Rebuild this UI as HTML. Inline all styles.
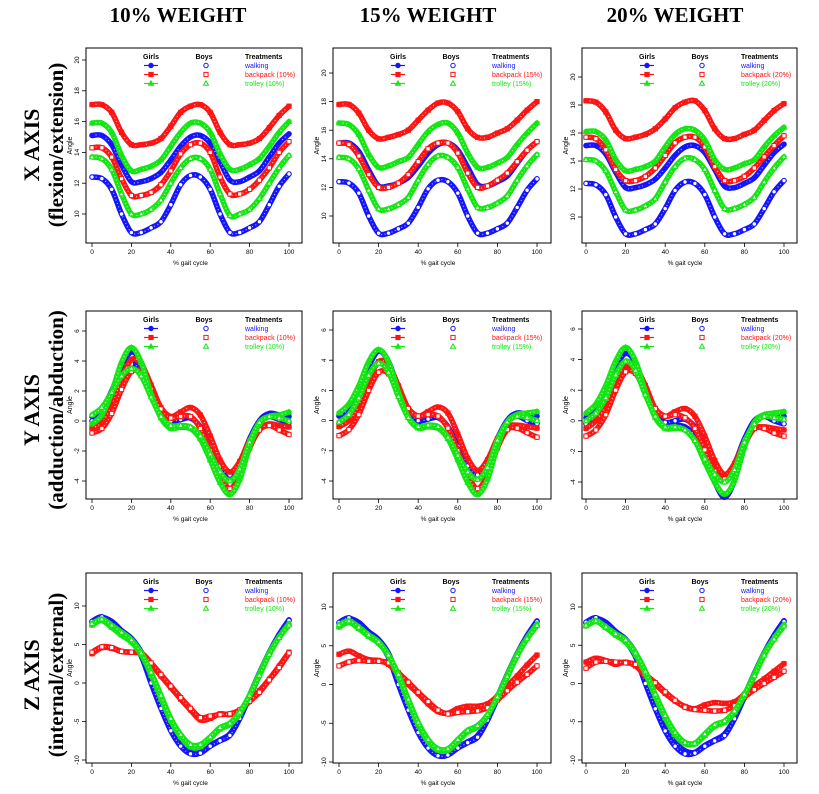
<!DOCTYPE html>
<html><head><meta charset="utf-8"><style>
body{margin:0;background:#fff;width:819px;height:794px;overflow:hidden}
svg{display:block;font-family:"Liberation Sans",sans-serif}
</style></head><body>
<svg id="fig" width="819" height="794" viewBox="0 0 819 794"></svg>
<script>
const gaitPct=[0,5,10,15,20,25,30,35,40,45,50,55,60,65,70,75,80,85,90,95,100];
const colTitles=["10% WEIGHT","15% WEIGHT","20% WEIGHT"];
const weightLabels=["10%","15%","20%"];
const rowTitles=[["X AXIS","(flexion/extension)"],["Y AXIS","(adduction/abduction)"],["Z AXIS","(internal/external)"]];
const ticksX=[0,20,40,60,80,100];
const ticksRow1=[10,12,14,16,18,20];
const ticksRow2=[-4,-2,0,2,4,6];
const ticksRow3=[-10,-5,0,5,10];
// Row 1 - X axis
const x10_walkGirls=[15.1,15.1,14.5,13.2,12.1,12.1,12.3,12.7,13.5,14.4,15.0,15.1,14.6,13.4,12.2,12.1,12.4,12.8,13.7,14.6,15.2];
const x10_walkBoys=[12.4,12.3,11.6,10.0,8.8,8.8,9.1,9.5,10.6,11.9,12.5,12.4,11.6,10.0,8.8,8.8,9.1,9.5,10.6,11.8,12.6];
const x10_packGirls=[17.1,17.1,16.6,15.3,14.5,14.5,14.6,14.9,15.7,16.6,17.0,17.1,16.6,15.3,14.5,14.5,14.6,14.9,15.6,16.4,17.0];
const x10_packBoys=[14.3,14.3,13.7,12.3,11.2,11.2,11.4,11.9,12.8,13.9,14.5,14.6,14.0,12.4,11.3,11.3,11.6,12.2,13.0,14.0,14.7];
const x10_trolGirls=[15.9,15.9,15.3,13.8,12.8,12.9,13.1,13.5,14.4,15.3,15.9,15.9,15.3,13.9,12.9,12.9,13.2,13.6,14.4,15.3,16.0];
const x10_trolBoys=[13.7,13.6,12.9,11.3,10.0,10.0,10.3,10.9,12.0,13.0,13.6,13.6,12.9,11.3,9.9,10.0,10.3,11.0,12.0,13.0,13.8];
const x15_walkGirls=[15.1,15.1,14.5,13.2,12.1,12.1,12.3,12.7,13.5,14.4,15.0,15.1,14.6,13.4,12.2,12.1,12.4,12.8,13.7,14.6,15.2];
const x15_walkBoys=[12.4,12.3,11.6,10.0,8.8,8.8,9.1,9.5,10.6,11.9,12.5,12.4,11.6,10.0,8.8,8.8,9.1,9.5,10.6,11.8,12.6];
const x15_packGirls=[17.8,17.8,17.2,16.0,15.4,15.5,15.7,16.0,16.7,17.4,17.9,17.9,17.3,16.1,15.5,15.5,15.8,16.1,16.7,17.4,18.0];
const x15_packBoys=[15.1,15.0,14.2,12.9,12.0,12.0,12.3,12.9,13.8,14.7,15.1,15.1,14.4,13.0,12.0,12.1,12.5,13.0,13.8,14.6,15.2];
const x15_trolGirls=[16.5,16.4,15.7,14.3,13.4,13.5,13.8,14.1,15.0,15.9,16.4,16.5,15.8,14.4,13.4,13.4,13.7,14.1,15.0,15.8,16.5];
const x15_trolBoys=[14.1,14.0,13.3,11.8,10.5,10.5,10.8,11.3,12.5,13.6,14.2,14.1,13.4,11.9,10.6,10.6,10.9,11.4,12.5,13.5,14.3];
const x20_walkGirls=[15.1,15.1,14.5,13.2,12.1,12.1,12.3,12.7,13.5,14.4,15.0,15.1,14.6,13.4,12.2,12.1,12.4,12.8,13.7,14.6,15.2];
const x20_walkBoys=[12.4,12.3,11.6,10.0,8.8,8.8,9.1,9.5,10.6,11.9,12.5,12.4,11.6,10.0,8.8,8.8,9.1,9.5,10.6,11.8,12.6];
const x20_packGirls=[18.3,18.2,17.5,16.2,15.6,15.7,15.9,16.3,17.0,17.8,18.2,18.3,17.6,16.3,15.6,15.6,15.9,16.2,16.9,17.6,18.1];
const x20_packBoys=[15.7,15.6,14.8,13.4,12.6,12.6,12.9,13.5,14.4,15.3,15.7,15.7,15.0,13.6,12.6,12.6,12.9,13.5,14.3,15.1,15.8];
const x20_trolGirls=[16.1,16.1,15.5,14.1,13.3,13.4,13.6,14.0,15.0,15.9,16.3,16.2,15.5,14.1,13.4,13.5,13.8,14.1,15.0,15.8,16.4];
const x20_trolBoys=[14.1,14.0,13.3,11.8,10.5,10.5,10.8,11.3,12.5,13.6,14.2,14.1,13.4,11.9,10.6,10.6,10.9,11.4,12.5,13.5,14.3];
// Row 2 - Y axis
const y10_walkGirls=[0.3,0.8,2.0,3.6,4.6,3.9,2.1,0.6,-0.3,-0.4,-0.5,-1.1,-2.4,-3.8,-4.7,-3.7,-1.6,0.0,0.5,0.4,0.3];
const y10_walkBoys=[0.0,0.5,1.6,3.0,3.8,3.3,1.9,0.6,0.0,0.1,0.2,-0.4,-1.7,-3.0,-3.6,-2.8,-1.2,0.0,0.3,0.1,-0.1];
const y10_packGirls=[-0.5,-0.1,1.0,2.8,4.1,3.8,2.4,0.9,0.3,0.6,0.9,0.4,-1.0,-2.6,-3.4,-2.7,-1.3,-0.5,-0.2,-0.3,-0.4];
const y10_packBoys=[-0.8,-0.5,0.5,2.1,3.3,3.2,2.1,0.8,0.2,0.3,0.3,-0.5,-2.0,-3.6,-4.5,-3.6,-1.8,-0.6,-0.3,-0.6,-0.9];
const y10_trolGirls=[-0.2,0.4,1.9,3.9,4.9,3.9,1.8,0.2,-0.5,-0.4,-0.5,-1.2,-2.6,-4.1,-4.9,-3.9,-1.7,-0.2,0.3,0.4,0.6];
const y10_trolBoys=[0.4,0.9,1.9,3.0,3.5,3.0,1.6,0.3,-0.3,-0.3,-0.4,-1.0,-2.2,-3.4,-4.0,-3.2,-1.4,-0.1,0.3,0.2,0.0];
const y15_walkGirls=[0.3,0.8,2.0,3.6,4.6,3.9,2.1,0.6,-0.3,-0.4,-0.5,-1.1,-2.4,-3.8,-4.7,-3.7,-1.6,0.0,0.5,0.4,0.3];
const y15_walkBoys=[-0.2,0.3,1.5,2.9,3.8,3.3,1.9,0.6,0.0,0.1,0.2,-0.4,-1.7,-3.0,-3.6,-2.8,-1.2,0.0,0.3,0.0,-0.2];
const y15_packGirls=[-0.4,0.0,1.0,2.7,3.9,3.7,2.3,0.8,0.3,0.6,0.9,0.5,-0.9,-2.5,-3.3,-2.6,-1.2,-0.4,-0.3,-0.4,-0.5];
const y15_packBoys=[-1.0,-0.6,0.4,2.0,3.2,3.1,2.0,0.8,0.3,0.4,0.3,-0.5,-2.0,-3.6,-4.5,-3.6,-1.8,-0.6,-0.5,-0.8,-1.1];
const y15_trolGirls=[0.5,1.1,2.3,3.9,4.7,3.9,1.9,0.2,-0.5,-0.4,-0.5,-1.2,-2.6,-4.1,-4.9,-3.9,-1.7,-0.1,0.4,0.5,0.6];
const y15_trolBoys=[-0.1,0.4,1.5,3.0,3.8,3.2,1.6,0.2,-0.4,-0.3,-0.4,-1.1,-2.3,-3.4,-3.9,-3.1,-1.3,-0.1,0.3,0.2,0.0];
const y20_walkGirls=[0.2,0.7,1.9,3.5,4.4,3.8,2.0,0.5,-0.3,-0.3,-0.4,-1.0,-2.5,-4.0,-5.0,-3.9,-1.7,-0.1,0.4,0.4,0.3];
const y20_walkBoys=[-0.2,0.3,1.4,2.8,3.6,3.2,1.8,0.5,-0.1,0.0,0.1,-0.4,-1.6,-2.9,-3.6,-2.8,-1.2,0.0,0.3,0.0,-0.2];
const y20_packGirls=[-0.5,0.0,1.0,2.6,3.6,3.5,2.3,0.8,0.3,0.6,0.8,0.3,-1.0,-2.6,-3.5,-2.8,-1.4,-0.5,-0.4,-0.5,-0.6];
const y20_packBoys=[-1.0,-0.6,0.4,2.0,3.2,3.1,2.0,0.8,0.3,0.4,0.2,-0.5,-1.9,-3.3,-3.8,-3.1,-1.6,-0.5,-0.5,-0.8,-1.0];
const y20_trolGirls=[0.5,1.1,2.3,3.9,4.8,3.9,1.9,0.2,-0.5,-0.5,-0.6,-1.3,-2.7,-4.0,-4.8,-3.9,-1.7,-0.1,0.4,0.5,0.6];
const y20_trolBoys=[0.0,0.5,1.5,3.0,3.9,3.3,1.7,0.3,-0.4,-0.4,-0.6,-1.3,-2.5,-3.5,-4.0,-3.2,-1.4,-0.2,0.3,0.2,0.1];
// Row 3 - Z axis
const z10_walkGirls=[7.9,8.5,8.0,6.8,5.8,4.0,0.8,-2.5,-5.4,-7.6,-8.8,-9.0,-8.1,-7.4,-6.6,-4.6,-1.6,1.3,4.0,6.3,8.2];
const z10_walkBoys=[8.0,8.6,7.6,6.5,5.5,3.5,0.0,-3.3,-6.2,-8.2,-9.2,-9.1,-8.2,-7.5,-6.8,-4.6,-1.8,1.0,3.8,6.2,8.1];
const z10_packGirls=[3.8,4.6,4.5,4.1,4.0,3.8,2.4,0.9,-0.6,-2.1,-3.5,-4.8,-4.6,-4.0,-4.1,-3.6,-2.3,-1.0,0.5,2.2,4.0];
const z10_packBoys=[4.0,4.7,4.6,4.1,4.0,3.9,2.6,1.1,-0.4,-1.9,-3.3,-4.5,-4.3,-4.1,-4.0,-3.5,-2.4,-1.2,0.4,2.0,3.9];
const z10_trolGirls=[7.5,8.1,7.2,6.2,5.3,3.7,1.1,-2.0,-4.9,-7.0,-8.3,-8.3,-7.2,-6.0,-5.4,-4.0,-1.6,1.2,3.9,6.0,7.7];
const z10_trolBoys=[7.7,8.3,7.5,6.6,5.6,3.9,1.4,-1.6,-4.6,-6.7,-8.0,-8.0,-7.0,-5.8,-5.2,-3.8,-1.6,1.0,3.7,5.9,7.5];
const z15_walkGirls=[7.9,8.5,8.0,6.8,5.8,4.0,0.8,-2.5,-5.4,-7.6,-8.8,-9.0,-8.1,-7.4,-6.6,-4.6,-1.6,1.3,4.0,6.3,8.2];
const z15_walkBoys=[8.0,8.6,7.6,6.5,5.5,3.5,0.0,-3.3,-6.2,-8.2,-9.2,-9.1,-8.2,-7.5,-6.8,-4.6,-1.8,1.0,3.8,6.2,8.1];
const z15_packGirls=[3.9,4.3,3.7,3.2,3.1,2.6,1.3,0.0,-1.2,-2.5,-3.5,-3.7,-3.1,-2.8,-2.8,-2.5,-1.5,-0.2,1.1,2.5,3.8];
const z15_packBoys=[2.4,2.9,3.1,3.0,3.0,2.8,1.5,0.3,-1.0,-2.2,-3.3,-3.8,-3.6,-3.5,-3.4,-3.0,-2.0,-0.8,0.3,1.3,2.4];
const z15_trolGirls=[7.4,8.0,7.2,6.2,5.3,3.7,1.0,-2.2,-5.2,-7.4,-8.5,-8.5,-7.4,-6.1,-5.5,-4.0,-1.6,1.2,3.9,6.0,7.8];
const z15_trolBoys=[7.7,8.2,7.4,6.4,5.5,3.8,1.3,-1.9,-4.9,-7.1,-8.3,-8.3,-7.1,-5.9,-5.3,-3.9,-1.6,1.0,3.7,5.9,7.6];
const z20_walkGirls=[7.9,8.5,8.0,6.8,5.8,4.0,0.8,-2.5,-5.4,-7.6,-8.8,-9.0,-8.1,-7.4,-6.6,-4.6,-1.6,1.3,4.0,6.3,8.2];
const z20_walkBoys=[8.0,8.6,7.6,6.5,5.5,3.5,0.0,-3.3,-6.2,-8.2,-9.2,-9.1,-8.2,-7.5,-6.8,-4.6,-1.8,1.0,3.8,6.2,8.1];
const z20_packGirls=[2.8,3.3,3.0,2.5,2.8,2.3,1.0,-0.1,-1.3,-2.3,-3.0,-3.3,-2.8,-2.5,-2.6,-2.4,-1.4,-0.3,0.6,1.6,2.6];
const z20_packBoys=[2.0,2.8,2.9,2.8,2.7,2.5,1.2,0.1,-1.1,-2.2,-3.1,-3.4,-3.5,-3.6,-3.5,-2.9,-1.8,-0.8,0.0,0.8,1.6];
const z20_trolGirls=[7.5,8.1,7.3,6.3,5.4,3.8,1.3,-1.7,-4.5,-6.7,-7.9,-7.9,-6.8,-5.6,-5.1,-3.8,-1.5,1.2,3.9,5.9,7.7];
const z20_trolBoys=[7.6,8.2,7.4,6.5,5.7,4.0,1.6,-1.4,-4.2,-6.4,-7.7,-7.8,-6.6,-5.4,-4.9,-3.6,-1.4,1.0,3.7,5.8,7.5];

const panelSeries=[
 [[x10_walkGirls,x10_walkBoys,x10_packGirls,x10_packBoys,x10_trolGirls,x10_trolBoys],
  [x15_walkGirls,x15_walkBoys,x15_packGirls,x15_packBoys,x15_trolGirls,x15_trolBoys],
  [x20_walkGirls,x20_walkBoys,x20_packGirls,x20_packBoys,x20_trolGirls,x20_trolBoys]],
 [[y10_walkGirls,y10_walkBoys,y10_packGirls,y10_packBoys,y10_trolGirls,y10_trolBoys],
  [y15_walkGirls,y15_walkBoys,y15_packGirls,y15_packBoys,y15_trolGirls,y15_trolBoys],
  [y20_walkGirls,y20_walkBoys,y20_packGirls,y20_packBoys,y20_trolGirls,y20_trolBoys]],
 [[z10_walkGirls,z10_walkBoys,z10_packGirls,z10_packBoys,z10_trolGirls,z10_trolBoys],
  [z15_walkGirls,z15_walkBoys,z15_packGirls,z15_packBoys,z15_trolGirls,z15_trolBoys],
  [z20_walkGirls,z20_walkBoys,z20_packGirls,z20_packBoys,z20_trolGirls,z20_trolBoys]]];
const seriesNames=["walking-girls","walking-boys","backpack-girls","backpack-boys","trolley-girls","trolley-boys"];

const colGeom=[{l:86,r:302,x0:92,x1:289,tc:178},{l:333,r:551,x0:339,x1:537,tc:428},{l:582,r:797,x0:586,x1:784,tc:675}];
const rowGeom=[{t:48,b:243,ticks:ticksRow1,ymap:[[10,214,20,60],[10,216,20,73],[10,217,20,77]],tc:145},
               {t:311,b:499,ticks:ticksRow2,ymap:[[-4,481,6,331],[-4,481,6,330],[-4,482,6,329]],tc:410},
               {t:573,b:763,ticks:ticksRow3,ymap:[[-10,760,10,606],[-10,762,10,607],[-10,760,10,607]],tc:675}];
const colors=["#1414ff","#1414ff","#ff1414","#ff1414","#14e614","#14e614"];
const shapes=["circle","circle","square","square","triangle","triangle"];
const NS="http://www.w3.org/2000/svg";
const svg=document.getElementById('fig');
function mk(tag,attrs,parent){const e=document.createElementNS(NS,tag);for(const k in attrs)e.setAttribute(k,attrs[k]);(parent||svg).appendChild(e);return e;}
function txt(s,attrs,parent){const e=mk('text',attrs,parent);e.textContent=s;return e;}
function marker(g,shape,x,y,c,filled){
 let e;
 if(shape==="circle")e=mk('circle',{cx:x,cy:y,r:2.2},g);
 else if(shape==="square")e=mk('rect',{x:x-2.1,y:y-2.1,width:4.2,height:4.2},g);
 else e=mk('polygon',{points:`${x},${y-2.6} ${x-2.5},${y+1.8} ${x+2.5},${y+1.8}`},g);
 e.setAttribute('fill',filled?c:'#fff');e.setAttribute('stroke',c);e.setAttribute('stroke-width',1);
 return e;
}
function smoothPath(pts){
 let d=`M${pts[0][0]},${pts[0][1]}`;
 for(let i=0;i<pts.length-1;i++){
  const p0=pts[Math.max(0,i-1)],p1=pts[i],p2=pts[i+1],p3=pts[Math.min(pts.length-1,i+2)];
  const c1=[p1[0]+(p2[0]-p0[0])/6,p1[1]+(p2[1]-p0[1])/6],c2=[p2[0]-(p3[0]-p1[0])/6,p2[1]-(p3[1]-p1[1])/6];
  d+=` C${c1[0]},${c1[1]} ${c2[0]},${c2[1]} ${p2[0]},${p2[1]}`;
 }
 return d;
}
colTitles.forEach((t,i)=>{
 const e=txt(t,{x:colGeom[i].tc,y:22,'text-anchor':'middle','font-family':'"Liberation Serif",serif','font-weight':'bold','font-size':21});
 
});
rowTitles.forEach((lines,r)=>{
 const cy=rowGeom[r].tc;
 lines.forEach((s,k)=>{
  const x=k===0?39:63;
  const e=txt(s,{x:0,y:0,transform:`translate(${x},${cy}) rotate(-90)`,'text-anchor':'middle','font-family':'"Liberation Serif",serif','font-weight':'bold','font-size':k===0?22:21});
  
 });
});
for(let r=0;r<3;r++)for(let c=0;c<3;c++){
 const cg=colGeom[c],rg=rowGeom[r],ym=rg.ymap[c];
 const X=v=>cg.x0+(v-gaitPct[0])*(cg.x1-cg.x0)/100;
 const Y=v=>ym[1]+(v-ym[0])*(ym[3]-ym[1])/(ym[2]-ym[0]);
 const g=mk('g',{});
 
 const box=mk('rect',{x:cg.l,y:rg.t,width:cg.r-cg.l,height:rg.b-rg.t,fill:'none',stroke:'#000','stroke-width':1},g);
 
 ticksX.forEach(v=>{
  mk('line',{x1:X(v),x2:X(v),y1:rg.b,y2:rg.b+4,stroke:'#000','stroke-width':0.8},g);
  const t=txt(String(v),{x:X(v),y:rg.b+11,'text-anchor':'middle','font-size':6.5},g);
  
 });
 mk('line',{x1:X(0),x2:X(100),y1:rg.b,y2:rg.b,stroke:'#000','stroke-width':0.8},g);
 const xt=txt('% gait cycle',{x:(cg.x0+cg.x1)/2,y:rg.b+22,'text-anchor':'middle','font-size':6.5},g);
 
 const tk=rg.ticks;
 tk.forEach(v=>{
  mk('line',{x1:cg.l-4,x2:cg.l,y1:Y(v),y2:Y(v),stroke:'#000','stroke-width':0.8},g);
  const t=txt(String(v),{x:0,y:0,transform:`translate(${cg.l-7},${Y(v)}) rotate(-90)`,'text-anchor':'middle','font-size':6.5},g);
  
 });
 mk('line',{x1:cg.l,x2:cg.l,y1:Y(tk[0]),y2:Y(tk[tk.length-1]),stroke:'#000','stroke-width':0.8},g);
 const yt=txt('Angle',{x:0,y:0,transform:`translate(${cg.l-14},${(rg.t+rg.b)/2}) rotate(-90)`,'text-anchor':'middle','font-size':7},g);
 
 panelSeries[r][c].forEach((vals,si)=>{
  const sg=mk('g',{},g);
  
  const pts=vals.map((v,i)=>[X(gaitPct[i]),Y(v)]);
  const d=smoothPath(pts);
  mk('path',{d,fill:'none',stroke:colors[si],'stroke-width':5.5,'stroke-linecap':'round'},sg);
  mk('path',{d,fill:'none',stroke:'#fff','stroke-width':1.2,'stroke-dasharray':'1 2.6',opacity:0.7},sg);
  pts.forEach(p=>marker(sg,shapes[si],p[0],p[1],colors[si],si%2===0));
 });
 const lg=mk('g',{},g);
 
 const hy=rg.t+11,gx=cg.l+65,bx=cg.l+118,tx=cg.l+159;
 txt('Girls',{x:gx,y:hy,'text-anchor':'middle','font-size':7,'font-weight':'bold'},lg);
 txt('Boys',{x:bx,y:hy,'text-anchor':'middle','font-size':7,'font-weight':'bold'},lg);
 txt('Treatments',{x:tx,y:hy,'font-size':7,'font-weight':'bold'},lg);
 const labs=['walking','backpack ('+weightLabels[c]+')','trolley ('+weightLabels[c]+')'];
 [0,2,4].forEach((si,k)=>{
  const yy=hy+9*(k+1)-2.5;
  mk('line',{x1:gx-7,x2:gx+7,y1:yy,y2:yy,stroke:colors[si],'stroke-width':1.2},lg);
  marker(lg,shapes[si],gx,yy,colors[si],true);
  marker(lg,shapes[si],bx+2,yy,colors[si],false);
  const e=txt(labs[k],{x:tx,y:yy+2.5,'font-size':7,fill:colors[si]},lg);
  
 });
}
</script>
</body></html>
